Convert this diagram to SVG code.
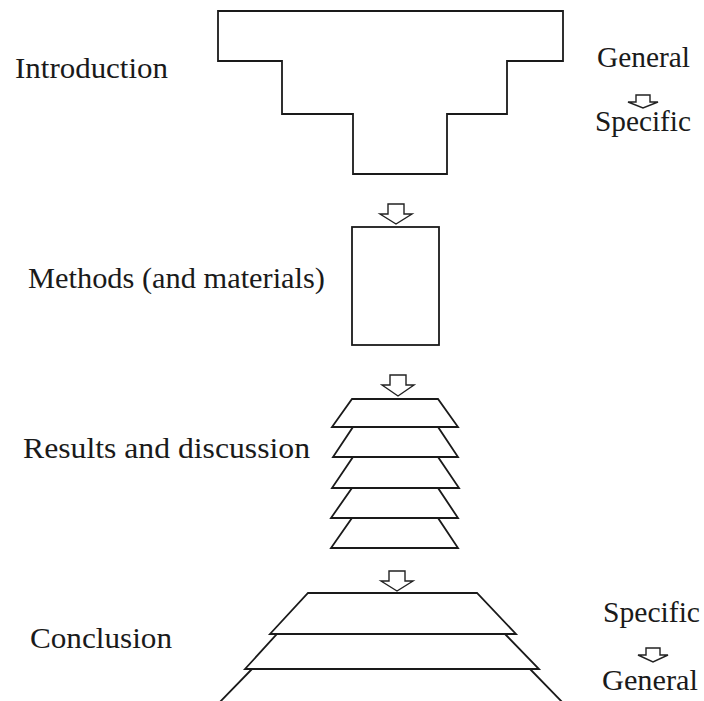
<svg xmlns="http://www.w3.org/2000/svg" width="704" height="701" viewBox="0 0 704 701">
<style>
.s{fill:#fff;stroke:#1a1a1a;stroke-width:1.8;stroke-linejoin:miter}
.a{fill:#fff;stroke:#222;stroke-width:1.4;stroke-linejoin:miter}
.t{font-family:"Liberation Serif","Times New Roman",serif;font-size:29px;fill:#1a1a1a}
</style>
<rect width="704" height="701" fill="#fff"/>
<g id="introduction">
<polygon class="s" points="218,11 563,11 563,61 507,61 507,114 447,114 447,174 353,174 353,114 282,114 282,61 218,61"/>
<text class="t" x="15" y="78" textLength="153" lengthAdjust="spacingAndGlyphs">Introduction</text>
</g>
<g id="methods">
<rect class="s" x="352" y="227" width="87" height="118"/>
<text class="t" x="28" y="288" textLength="297" lengthAdjust="spacingAndGlyphs">Methods (and materials)</text>
</g>
<g id="results">
<polygon class="s" points="352,518 438,518 458,548 331,548"/>
<polygon class="s" points="352,488 438,488 458,518 331,518"/>
<polygon class="s" points="353,457 438,457 459,488 332,488"/>
<polygon class="s" points="353,427 438,427 458,457 333,457"/>
<polygon class="s" points="352,399 438,399 458,427 332,427"/>
<text class="t" x="23" y="458" textLength="287" lengthAdjust="spacingAndGlyphs">Results and discussion</text>
</g>
<g id="conclusion">
<path class="s" d="M252,669 L530,669 L566,706 L216,706 Z"/>
<polygon class="s" points="277,634 505,634 539,669 245,669"/>
<polygon class="s" points="308,593 477,593 516,634 270,634"/>
<text class="t" x="30" y="648" textLength="142" lengthAdjust="spacingAndGlyphs">Conclusion</text>
</g>
<g id="general-specific">
<text class="t" x="597" y="67" textLength="93" lengthAdjust="spacingAndGlyphs">General</text>
<text class="t" x="595" y="131" textLength="96" lengthAdjust="spacingAndGlyphs">Specific</text>
</g>
<g id="specific-general">
<text class="t" x="603" y="622" textLength="97" lengthAdjust="spacingAndGlyphs">Specific</text>
<text class="t" x="602" y="690" textLength="96" lengthAdjust="spacingAndGlyphs">General</text>
</g>
<g id="connectors">
<polygon class="a" points="388,204 404,204 404,214 412,214 396,224 380,214 388,214"/>
<polygon class="a" points="390,375 406,375 406,385 414,385 398,396 382,385 390,385"/>
<polygon class="a" points="389,571 405,571 405,581 413,581 397,591 381,581 389,581"/>
<polygon class="a" points="636,95 650,95 650,102 658,102 643,108 628,102 636,102"/>
<polygon class="a" points="646,648 660,648 660,655 668,655 653,662 638,655 646,655"/>
</g>
</svg>
